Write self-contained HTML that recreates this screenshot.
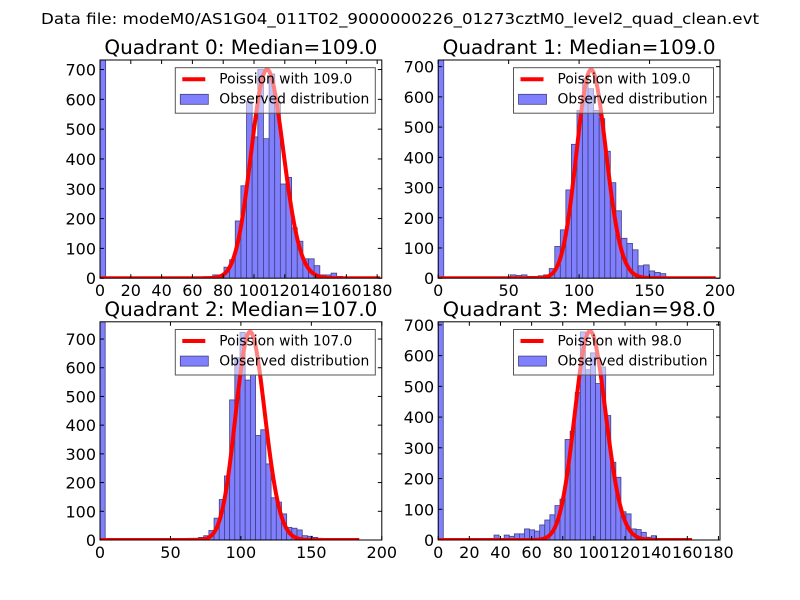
<!DOCTYPE html>
<html><head><meta charset="utf-8"><style>
html,body{margin:0;padding:0;background:#fff}
svg{display:block;font-family:"DejaVu Sans","Liberation Sans",sans-serif}
</style></head><body>
<svg id="fig" width="800" height="600" viewBox="0 0 800 600" xmlns="http://www.w3.org/2000/svg">
<rect width="800" height="600" fill="#fff"/>
<text x="400" y="24" text-anchor="middle" font-size="15.5" textLength="718" lengthAdjust="spacingAndGlyphs">Data file: modeM0/AS1G04_011T02_9000000226_01273cztM0_level2_quad_clean.evt</text>
</svg>
<script>
// ---- data ----
const quadTitles = ["Quadrant 0: Median=109.0","Quadrant 1: Median=109.0","Quadrant 2: Median=107.0","Quadrant 3: Median=98.0"];
const medians = [109, 109, 107, 98];
const curvePeaks = [700, 690, 725, 680];
const curveEnds = [182, 197, 184, 163];
const binWidths = [3.66, 3.94, 3.68, 3.26];
const xMaxes = [183, 200, 200, 181];
const yMaxes = [732, 722, 760, 710];
const xTickSets = [[0,20,40,60,80,100,120,140,160,180],[0,50,100,150,200],[0,50,100,150,200],[0,20,40,60,80,100,120,140,160,180]];
const yTicks = [0,100,200,300,400,500,600,700];
const zeroBins = [732, 722, 760, 710];
const q0Start = 17;
const q0Counts = [3,3,5,11,10,37,62,192,310,592,474,700,468,685,592,316,338,169,124,65,65,42,11,11,17,6,2];
const q1Start = 13;
const q1Counts = [11,9,11,6,6,8,11,32,105,160,292,443,555,660,627,555,528,420,316,223,132,115,94,41,44,24,19,15,0,3,3,3];
const q2Start = 13;
const q2Counts = [2,2,2,2,6,6,9,15,33,76,141,223,488,635,723,557,575,364,384,265,147,132,91,44,41,35,15,13,9,6,3];
const q3Start = 11;
const q3Counts = [16,0,16,12,20,20,36,33,29,49,65,82,112,133,327,354,480,677,554,609,509,563,405,253,204,92,85,36,34,25,9,14,3];
const starts = [q0Start,q1Start,q2Start,q3Start];
const countSets = [q0Counts,q1Counts,q2Counts,q3Counts];

const NS = "http://www.w3.org/2000/svg";
const svg = document.getElementById('fig');
function mk(tag, attrs, parent){const e=document.createElementNS(NS,tag);for(const k in attrs)e.setAttribute(k,attrs[k]);(parent||svg).appendChild(e);return e;}
function lgamma(n){
  if(n<2) return 0;
  return n*Math.log(n)-n+0.5*Math.log(2*Math.PI*n)+1/(12*n);
}
const boxes = [[100,60,381.8,278.2],[438.2,60,720,278.2],[100,321.8,381.8,540],[438.2,321.8,720,540]];

for(let q=0;q<4;q++){
  const [L,T,R,B]=boxes[q];
  const xs=v=>L+(v/xMaxes[q])*(R-L);
  const ys=v=>B-(v/yMaxes[q])*(B-T);
  const g=mk('g',{});
  
  
  const cid='clip'+q;
  const cp=mk('clipPath',{id:cid},g);mk('rect',{x:L,y:T,width:R-L,height:B-T},cp);
  const pg=mk('g',{'clip-path':'url(#'+cid+')'},g);
  const bw=binWidths[q];
  const all=[[0,zeroBins[q]]];
  countSets[q].forEach((c,i)=>all.push([starts[q]+i,c]));
  all.forEach(([bi,c])=>{
    if(c<=0)return;
    const r=mk('rect',{x:xs(bi*bw),y:ys(c),width:xs(bw)-xs(0),height:ys(0)-ys(c),fill:'#8080ff',stroke:'#40407f','stroke-width':0.8},pg);
    
    
  });
  const lam=medians[q];
  const peakLog=lam*Math.log(lam)-lam-lgamma(lam);
  let d='';
  for(let k=0;k<=curveEnds[q];k++){
    const lp=(k===0?-lam:k*Math.log(lam)-lam-lgamma(k));
    const v=curvePeaks[q]*Math.exp(lp-peakLog);
    d+=(k?'L':'M')+xs(k).toFixed(2)+','+ys(v).toFixed(2);
  }
  const pc=mk('path',{d:d,fill:'none',stroke:'#ff0000','stroke-width':4,'stroke-linejoin':'round'},pg);
  
  
  mk('rect',{x:L,y:T,width:R-L,height:B-T,fill:'none',stroke:'#000','stroke-width':1},g);
  xTickSets[q].forEach(t=>{
    const x=xs(t);
    mk('line',{x1:x,y1:B,x2:x,y2:B-4,stroke:'#000'},g);
    mk('line',{x1:x,y1:T,x2:x,y2:T+4,stroke:'#000'},g);
    const tx=mk('text',{x:x,y:B+18,'text-anchor':'middle','font-size':16},g);
    tx.textContent=t;
    
    
  });
  yTicks.forEach(t=>{
    const y=ys(t);
    mk('line',{x1:L,y1:y,x2:L+4,y2:y,stroke:'#000'},g);
    mk('line',{x1:R,y1:y,x2:R-4,y2:y,stroke:'#000'},g);
    const ty=mk('text',{x:L-4,y:y+6,'text-anchor':'end','font-size':16},g);
    ty.textContent=t;
    
    
  });
  const tt=mk('text',{x:(L+R)/2,y:T-6,'text-anchor':'middle','font-size':19.5,textLength:273,lengthAdjust:'spacingAndGlyphs'},g);
  tt.textContent=quadTitles[q];
  
  
  const lg=mk('g',{},g);
  
  
  const lx=R-206.5, ly=T+7.7;
  mk('rect',{x:lx,y:ly,width:200,height:45.5,fill:'rgba(255,255,255,0.5)',stroke:'#555','stroke-width':1},lg);
  mk('line',{x1:lx+7,y1:ly+11.5,x2:lx+30,y2:ly+11.5,stroke:'#ff0000','stroke-width':4},lg);
  const t1=mk('text',{x:lx+44,y:ly+16,'font-size':13.8},lg);
  t1.textContent='Poission with '+medians[q].toFixed(1);
  
  
  mk('rect',{x:lx+5,y:ly+26.6,width:28,height:10,fill:'#8080ff',stroke:'#40407f','stroke-width':0.8},lg);
  const t2=mk('text',{x:lx+44,y:ly+36,'font-size':13.8,textLength:150,lengthAdjust:'spacingAndGlyphs'},lg);
  t2.textContent='Observed distribution';
  
  
}
</script>
</body></html>
